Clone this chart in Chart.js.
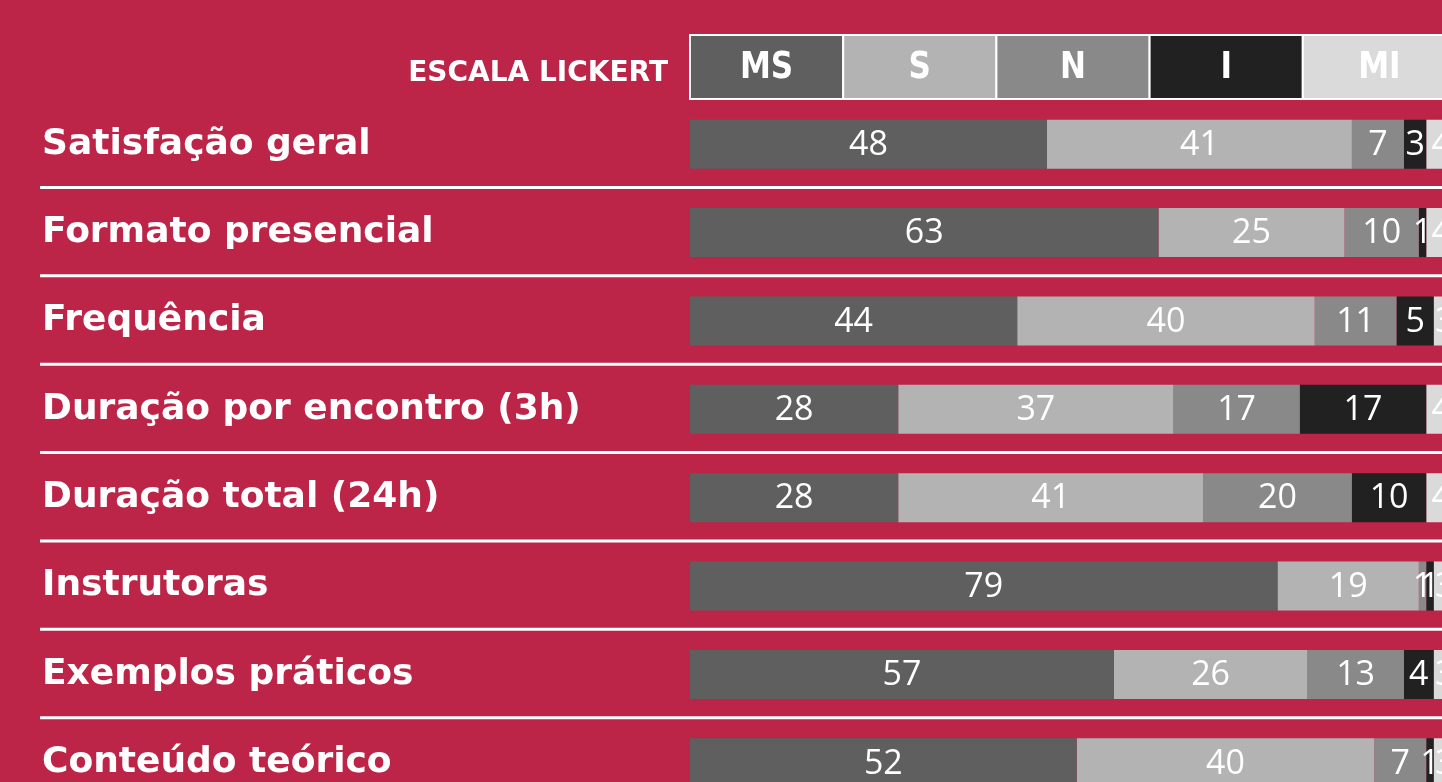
<!DOCTYPE html>
<html>
<head>
<meta charset="utf-8">
<script src="https://cdn.jsdelivr.net/npm/chart.js@4/dist/chart.umd.min.js"></script>
<style>
  html, body { margin: 0; padding: 0; overflow: hidden; background: #bc2548; width: 1442px; height: 782px; }
  #wrap { position: absolute; left: 0; top: 0; width: 1470px; height: 837px; }
</style>
</head>
<body>
<div id="wrap"><canvas id="c"></canvas></div>
<script>
// ---- data ----
const categories = ['Satisfação geral', 'Formato presencial', 'Frequência', 'Duração por encontro (3h)',
  'Duração total (24h)', 'Instrutoras', 'Exemplos práticos', 'Conteúdo teórico'];
const scaleLabels = ['MS', 'S', 'N', 'I', 'MI'];
const valuesMS = [48, 63, 44, 28, 28, 79, 57, 52];
const valuesS  = [41, 25, 40, 37, 41, 19, 26, 40];
const valuesN  = [7, 10, 11, 17, 20, 1, 13, 7];
const valuesI  = [3, 1, 5, 17, 10, 1, 4, 1];
const valuesMI = [4, 4, 3, 4, 4, 3, 3, 3];
const headerTitle = 'ESCALA LICKERT';

// ---- styles ----
const segColors = ['#5f5f5f', '#b3b3b3', '#898989', '#212121', '#dadada'];
const series = [valuesMS, valuesS, valuesN, valuesI, valuesMI];

const datasets = series.map((vals, k) => ({
  label: scaleLabels[k],
  data: vals,
  backgroundColor: segColors[k],
  borderWidth: 0,
  barPercentage: 0.555,
  categoryPercentage: 1
}));

const separatorPlugin = {
  id: 'separators',
  beforeDatasetsDraw(chart) {
    const ctx = chart.ctx, y = chart.scales.y;
    ctx.save();
    ctx.strokeStyle = '#ffffff';
    ctx.lineWidth = 3;
    for (let i = 0; i < categories.length - 1; i++) {
      const yy = (y.getPixelForValue(i) + y.getPixelForValue(i + 1)) / 2 - 1;
      ctx.beginPath();
      ctx.moveTo(40, yy);
      ctx.lineTo(chart.width, yy);
      ctx.stroke();
    }
    ctx.restore();
  }
};

const headerPlugin = {
  id: 'header',
  afterDraw(chart) {
    const ctx = chart.ctx, a = chart.chartArea;
    const top = 35, bottom = 99;
    const w = (a.right - a.left) / scaleLabels.length;
    ctx.save();
    for (let k = 0; k < scaleLabels.length; k++) {
      const x0 = a.left + k * w;
      ctx.fillStyle = segColors[k];
      ctx.fillRect(x0, top, w, bottom - top);
      ctx.strokeStyle = '#ffffff';
      ctx.lineWidth = 2;
      ctx.strokeRect(x0, top, w, bottom - top);
      ctx.save();
      ctx.translate(x0 + w / 2, (top + bottom) / 2 + 1);
      ctx.scale(0.84, 1);
      ctx.fillStyle = '#ffffff';
      ctx.font = 'bold 37px "DejaVu Sans"';
      ctx.textAlign = 'center';
      ctx.textBaseline = 'middle';
      ctx.fillText(scaleLabels[k], 0, 0);
      ctx.restore();
    }
    ctx.fillStyle = '#ffffff';
    ctx.font = 'bold 28px "DejaVu Sans"';
    ctx.textAlign = 'right';
    ctx.textBaseline = 'middle';
    ctx.fillText(headerTitle, a.left - 22, 74);
    ctx.restore();
  }
};

const valueLabelPlugin = {
  id: 'valueLabels',
  afterDatasetsDraw(chart) {
    const ctx = chart.ctx;
    ctx.save();
    ctx.fillStyle = '#ffffff';
    ctx.font = '34px "Open Sans"';
    ctx.textAlign = 'center';
    ctx.textBaseline = 'middle';
    chart.data.datasets.forEach((ds, di) => {
      const meta = chart.getDatasetMeta(di);
      meta.data.forEach((el, i) => {
        const cx = (el.x + el.base) / 2;
        ctx.fillText(String(ds.data[i]), cx, el.y + 1);
      });
    });
    ctx.restore();
  }
};

new Chart(document.getElementById('c'), {
  type: 'bar',
  data: { labels: categories, datasets },
  options: {
    indexAxis: 'y',
    responsive: true,
    maintainAspectRatio: false,
    animation: false,
    layout: { padding: { left: 42, top: 100, right: 14, bottom: 30 } },
    plugins: { legend: { display: false }, tooltip: { enabled: false } },
    scales: {
      x: { stacked: true, min: 0, max: 103, display: false },
      y: {
        stacked: true,
        grid: { display: false },
        border: { display: false },
        afterFit(scale) { scale.width = 648; },
        ticks: {
          color: '#ffffff',
          crossAlign: 'far',
          autoSkip: false,
          font: { family: '"DejaVu Sans"', weight: 'bold', size: 36 }
        }
      }
    }
  },
  plugins: [separatorPlugin, valueLabelPlugin, headerPlugin]
});
</script>
</body>
</html>
